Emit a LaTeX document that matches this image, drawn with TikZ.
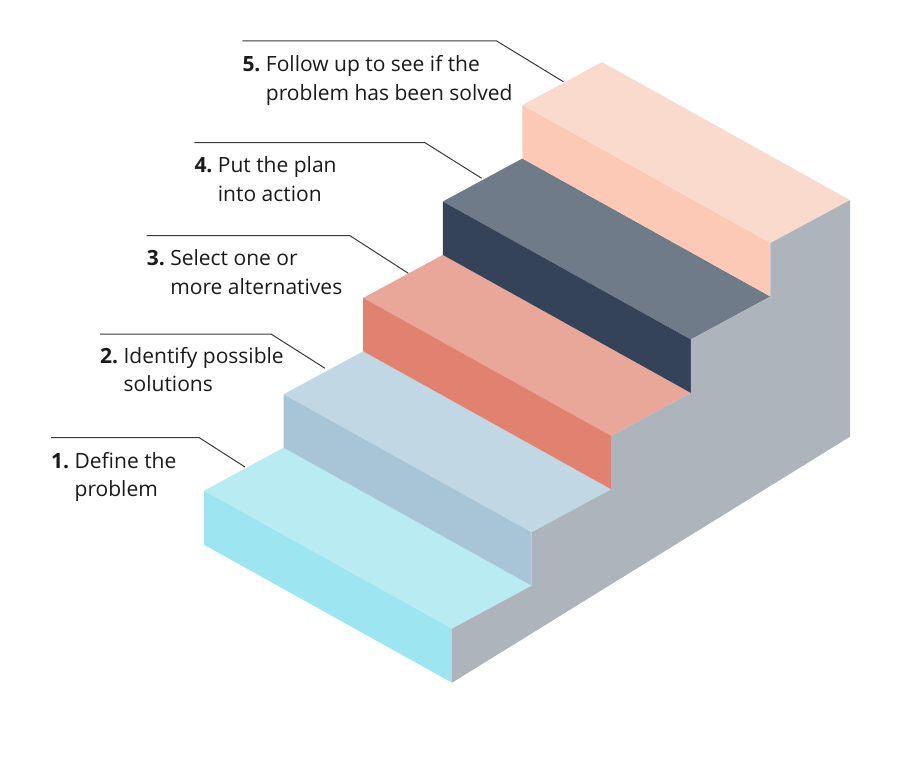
\documentclass[tikz,border=0pt]{standalone}
\usepackage{fontspec}
\setmainfont{Open Sans}
\usetikzlibrary{calc}
\definecolor{cAtop}{HTML}{B8ECF2}
\definecolor{cAfr}{HTML}{9DE5F0}
\definecolor{cBtop}{HTML}{C1D7E3}
\definecolor{cBfr}{HTML}{A7C5D6}
\definecolor{cCtop}{HTML}{E9A79A}
\definecolor{cCfr}{HTML}{E0826F}
\definecolor{cDtop}{HTML}{6F7B88}
\definecolor{cDfr}{HTML}{344357}
\definecolor{cEtop}{HTML}{FADACC}
\definecolor{cEfr}{HTML}{FBC9B5}
\definecolor{cside}{HTML}{ADB4BC}
\definecolor{cline}{HTML}{3A3A3A}
\definecolor{ctext}{HTML}{1A1A1A}
\begin{document}
\begin{tikzpicture}[x=1pt,y=-1pt,
  leader/.style={draw=cline,line width=1pt},
  label/.style={anchor=base west,inner sep=0pt,text=ctext,font=\fontsize{21}{28.5}\selectfont}]
\useasboundingbox (0,0) rectangle (900,765);
% step origins (front-left top corners)
\coordinate (P1) at (204,490.7);
\coordinate (P2) at (283.6,394.3);
\coordinate (P3) at (363.2,297.9);
\coordinate (P4) at (442.8,201.5);
\coordinate (P5) at (522.4,105.1);
% tops and risers
\foreach \k/\ct/\cf/\hh in {1/cAtop/cAfr/54,2/cBtop/cBfr/53.4,3/cCtop/cCfr/53.4,4/cDtop/cDfr/53.4,5/cEtop/cEfr/53.4}{
  \fill[\ct] (P\k) -- ++(248,138) -- ++(79.6,-43) -- ++(-248,-138) -- cycle;
  \fill[\cf] (P\k) -- ++(248,138) -- ++(0,\hh) -- ++(-248,-138) -- cycle;
}
% right side face
\fill[cside] ($(P1)+(248,192)$) -- ($(P1)+(248,138)$) -- ++(79.6,-43) -- ++(0,-53.4)
  -- ++(79.6,-43) -- ++(0,-53.4) -- ++(79.6,-43) -- ++(0,-53.4)
  -- ++(79.6,-43) -- ++(0,-53.4) -- ++(79.6,-43) -- (850,436.7) -- cycle;
% leaders
\coordinate (l1s) at (51,437.7);   \coordinate (l1k) at (199.3,437.7); \coordinate (l1e) at (245,467);
\coordinate (l2s) at (100,334);    \coordinate (l2k) at (271,334);     \coordinate (l2e) at (325,368.3);
\coordinate (l3s) at (146.7,235.7);\coordinate (l3k) at (350,235.7);   \coordinate (l3e) at (408.3,273.3);
\coordinate (l4s) at (194.3,142.7);\coordinate (l4k) at (425,142.7);   \coordinate (l4e) at (481.7,178.3);
\coordinate (l5s) at (242.3,41);   \coordinate (l5k) at (496.7,41);    \coordinate (l5e) at (563.3,81.7);
\foreach \k in {1,...,5}{\draw[leader] (l\k s) -- (l\k k) -- (l\k e);}
% labels
\node[label] (t1) at (51,468.3) {\begin{tabular}[t]{@{}l@{\ }l@{}}\textbf{1.}&Define the\\&problem\end{tabular}};
\node[label] (t2) at (100,363.3) {\begin{tabular}[t]{@{}l@{\ }l@{}}\textbf{2.}&Identify possible\\&solutions\end{tabular}};
\node[label] (t3) at (146.7,265.7) {\begin{tabular}[t]{@{}l@{\ }l@{}}\textbf{3.}&Select one or\\&more alternatives\end{tabular}};
\node[label] (t4) at (194.3,172.7) {\begin{tabular}[t]{@{}l@{\ }l@{}}\textbf{4.}&Put the plan\\&into action\end{tabular}};
\node[label] (t5) at (242.3,71.7) {\begin{tabular}[t]{@{}l@{\ }l@{}}\textbf{5.}&Follow up to see if the\\&problem has been solved\end{tabular}};
\end{tikzpicture}
\end{document}
